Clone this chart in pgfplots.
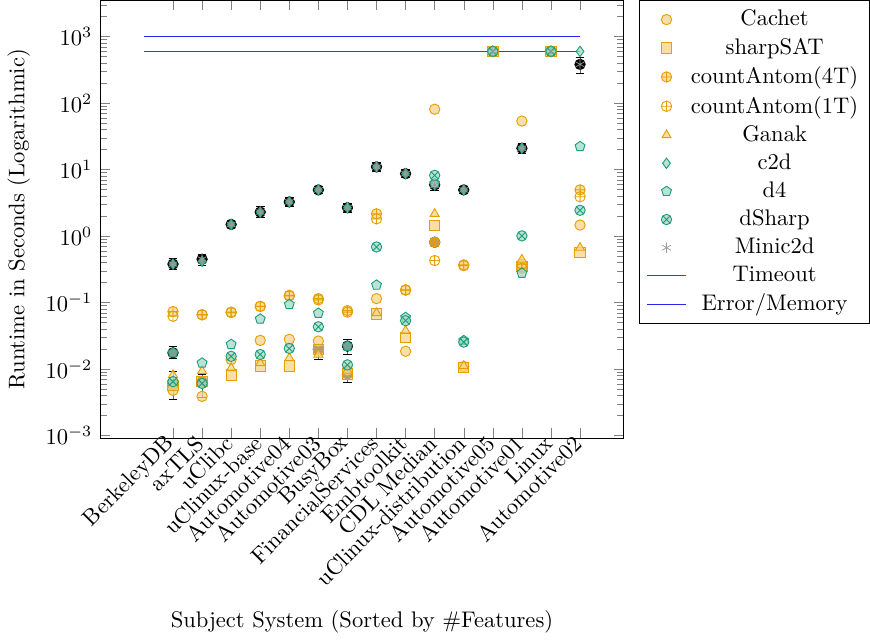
\documentclass[border=0pt]{standalone}
\usepackage{pgfplots}
\pgfplotsset{compat=1.18}
\definecolor{corange}{RGB}{230,159,0}
\definecolor{cteal}{RGB}{27,158,119}
\definecolor{cblue}{RGB}{40,40,235}
\begin{document}
\begin{tikzpicture}
\begin{axis}[
  scale only axis, width=232pt, height=194pt,
  ymode=log, ymin=0.00092, ymax=3500,
  xmin=-2.5, xmax=15.5,
  xtick={0,...,14},
  xticklabels={BerkeleyDB,axTLS,uClibc,uClinux-base,Automotive04,Automotive03,BusyBox,FinancialServices,Embtoolkit,CDL Median,uClinux-distribution,Automotive05,Automotive01,Linux,Automotive02},
  x tick label style={rotate=45, anchor=east, inner sep=1pt},
  xlabel={Subject System (Sorted by \#Features)},
  xlabel style={yshift=-5pt},
  ylabel={Runtime in Seconds (Logarithmic)},
  legend style={at={(1.03,1)}, anchor=north west, cells={anchor=center}},
  mark size=2.3pt,
  oran/.style={only marks, mark options={draw=corange, fill=corange!45, fill opacity=0.75}},
  teal/.style={only marks, mark options={draw=cteal, fill=cteal!40, fill opacity=0.75}},
]
% timeout and error lines
\addplot[forget plot, red, mark=none, line width=0.6pt] coordinates {(-1,600) (14,600)};
\addplot[forget plot, color=cblue, mark=none, line width=0.5pt] coordinates {(-1,1000) (14,1000)};
% error bars
\addplot[forget plot, only marks, mark=none,
  error bars/.cd, y dir=both, y explicit,
  error bar style={draw=black!60, line width=0.3pt},
  error mark=|,
  error mark options={draw=black, mark size=1.9pt, line width=0.4pt}]
coordinates {
 (0,0.38) +=(0,0.075) -=(0,0.06)
 (1,0.45) +=(0,0.085) -=(0,0.085)
 (2,1.5) +=(0,0.16) -=(0,0.15)
 (3,2.3) +=(0,0.45) -=(0,0.36)
 (4,3.28) +=(0,0.6) -=(0,0.5)
 (5,4.96) +=(0,0.65) -=(0,0.6)
 (6,2.68) +=(0,0.45) -=(0,0.38)
 (7,11.0) +=(0,2.0) -=(0,1.7)
 (8,8.7) +=(0,1.3) -=(0,1.1)
 (9,5.9) +=(0,0.6) -=(0,1.0)
 (10,4.96) +=(0,0.65) -=(0,0.6)
 (12,21.0) +=(0,3.4) -=(0,3.2)
 (14,383) +=(0,103) -=(0,107)
 (0,0.0176) +=(0,0.0041) -=(0,0.0032)
 (6,0.0222) +=(0,0.0055) -=(0,0.0055)
 (0,0.0057) +=(0,0.0035) -=(0,0.0022)
 (1,0.0065) +=(0,0.0017) -=(0,0.0027)
 (6,0.0085) +=(0,0.0014) -=(0,0.0022)
 (5,0.0198) +=(0,0.001) -=(0,0.0058)
 (9,0.81) +=(0,0.02) -=(0,0.02)
};
\addplot[oran, mark=*] coordinates {
 (0,0.0048) (1,0.0039) (2,0.0139) (3,0.0271) (4,0.0281) (5,0.0265) (6,0.0098) (7,0.115) (8,0.0186) (9,81) (10,0.011) (11,600) (12,53.8) (13,600) (14,1.47)};
\addlegendentry{Cachet}
\addplot[oran, mark=square*] coordinates {
 (0,0.0057) (1,0.0065) (2,0.0082) (3,0.0112) (4,0.0112) (5,0.0198) (6,0.0085) (7,0.0679) (8,0.0299) (9,1.44) (10,0.0106) (11,600) (12,0.352) (13,600) (14,0.563)};
\addlegendentry{sharpSAT}
\addplot[oran, mark=oplus*] coordinates {
 (0,0.0736) (1,0.0655) (2,0.071) (3,0.0878) (4,0.129) (5,0.115) (6,0.076) (7,2.17) (8,0.154) (9,0.81) (10,0.37) (11,600) (12,0.38) (13,600) (14,4.96)};
\addlegendentry{countAntom(4T)}
\addplot[only marks, mark=oplus, mark options={draw=corange}] coordinates {
 (0,0.0625) (1,0.066) (2,0.072) (3,0.088) (4,0.126) (5,0.110) (6,0.072) (7,1.82) (8,0.156) (9,0.43) (10,0.36) (11,600) (12,0.33) (13,600) (14,3.91)};
\addlegendentry{countAntom(1T)}
\addplot[oran, mark=triangle*] coordinates {
 (0,0.0082) (1,0.0094) (2,0.0104) (3,0.0124) (4,0.0147) (5,0.0166) (6,0.0095) (7,0.070) (8,0.0377) (9,2.17) (10,0.0112) (11,600) (12,0.444) (13,600) (14,0.671)};
\addlegendentry{Ganak}
\addplot[teal, mark=diamond*] coordinates {
 (0,0.38) (1,0.42) (2,1.50) (3,2.3) (4,3.28) (5,4.96) (6,2.68) (7,11.0) (8,8.71) (9,5.91) (10,4.96) (11,600) (12,21.0) (13,600) (14,600)};
\addlegendentry{c2d}
\addplot[teal, mark=pentagon*] coordinates {
 (0,0.0176) (1,0.0124) (2,0.0236) (3,0.0569) (4,0.094) (5,0.0695) (6,0.0222) (7,0.184) (8,0.060) (9,6.2) (10,0.027) (11,600) (12,0.278) (13,600) (14,22.3)};
\addlegendentry{d4}
\addplot[teal, mark=otimes*] coordinates {
 (0,0.0065) (1,0.0061) (2,0.0156) (3,0.0166) (4,0.0205) (5,0.0434) (6,0.0116) (7,0.688) (8,0.0536) (9,8.2) (10,0.0255) (11,600) (12,1.01) (13,600) (14,2.45)};
\addlegendentry{dSharp}
\addplot[only marks, mark=asterisk, mark options={draw=gray!80, line width=0.3pt}] coordinates {
 (0,0.38) (1,0.45) (2,1.50) (3,2.3) (4,3.28) (5,4.96) (6,2.68) (7,11.0) (8,8.7) (9,5.9) (10,4.96) (11,600) (12,21.0) (13,600) (14,383)};
\addlegendentry{Minic2d}
\addlegendimage{red, mark=none, line width=0.6pt}
\addlegendentry{Timeout}
\addlegendimage{color=cblue, mark=none, line width=0.5pt}
\addlegendentry{Error/Memory}
\end{axis}
\end{tikzpicture}
\end{document}
